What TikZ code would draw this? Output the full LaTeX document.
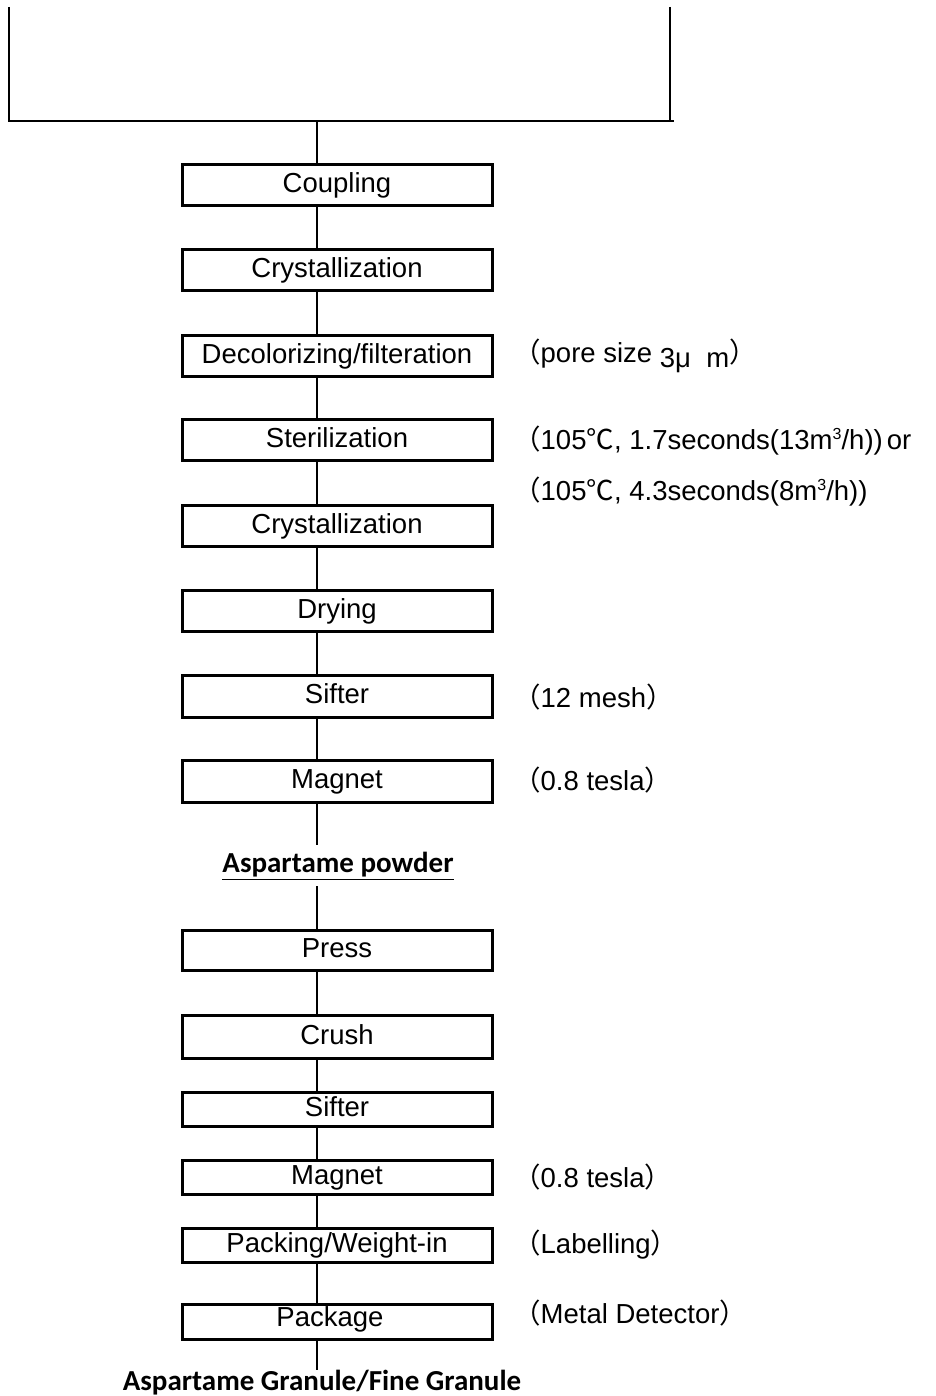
\documentclass[tikz,border=0pt]{standalone}
\usepackage{fontspec}
\setmainfont{Liberation Sans}
\newfontfamily\cjk{Noto Sans CJK JP}
\newfontfamily\calib{Carlito}
\newcommand{\lpar}{{\cjk （}}
\newcommand{\rpar}{{\cjk ）}}
\newcommand{\degc}{{\cjk ℃}}
\newcommand{\cubed}{\raisebox{10pt}{\fontsize{16}{18}\selectfont 3}}
\begin{document}
\begin{tikzpicture}[x=1pt,y=-1pt,
  box/.style={draw, line width=3pt, minimum width=310pt, inner sep=0pt,
    font=\fontsize{27.5}{32}\selectfont, text height=20pt, text depth=5pt},
  conn/.style={line width=1.6pt},
  frame/.style={line width=2pt},
  note/.style={anchor=west, inner sep=0pt, font=\fontsize{27.5}{32}\selectfont},
  lab/.style={inner sep=0pt, font=\fontsize{29}{34}\selectfont\calib\bfseries}
]
\useasboundingbox (0,0) rectangle (935,1396);

% top frame
\coordinate (tl) at (9,7);
\coordinate (bl) at (9,121);
\coordinate (br) at (674,121);
\coordinate (tr) at (670,7);
\coordinate (brr) at (670,121);
\coordinate (tc) at (317,121);
\draw[frame] (tl) -- (bl) -- (br);
\draw[frame] (tr) -- (brr);

% boxes
\node[box, minimum height=41pt] (b1) at (337,185.5) {Coupling};
\node[box, minimum height=41pt] (b2) at (337,270.5) {Crystallization};
\node[box, minimum height=41pt] (b3) at (337,355.5) {Decolorizing/filteration};
\node[box, minimum height=41pt] (b4) at (337,439.5) {Sterilization};
\node[box, minimum height=41pt] (b5) at (337,525.5) {Crystallization};
\node[box, minimum height=41pt] (b6) at (337,610.5) {Drying};
\node[box, minimum height=42pt] (b7) at (337,696) {Sifter};
\node[box, minimum height=42pt] (b8) at (337,781) {Magnet};
\node[lab] (pw) at (338,866) {\underline{Aspartame powder}};
\node[box, minimum height=40pt] (b9) at (337,950) {Press};
\node[box, minimum height=43pt] (b10) at (337,1036.5) {Crush};
\node[box, minimum height=34pt] (b11) at (337,1109) {Sifter};
\node[box, minimum height=34pt] (b12) at (337,1177) {Magnet};
\node[box, minimum height=34pt] (b13) at (337,1245) {Packing/Weight-in};
\node[box, minimum height=35pt] (b14) at (337,1321.5) {\hspace*{-14pt}\raisebox{3pt}{Package}};
\node[lab] (gr) at (322,1383) {Aspartame Granule/Fine Granule};

% connector end points
\coordinate (c1) at (317,845);
\coordinate (c2) at (317,886);
\coordinate (c3) at (317,1370);

% connectors
\draw[conn] (tc) -- ([xshift=-20pt]b1.north);
\foreach \a/\b in {b1/b2,b2/b3,b3/b4,b4/b5,b5/b6,b6/b7,b7/b8,b9/b10,b10/b11,b11/b12,b12/b13,b13/b14}{
  \draw[conn] ([xshift=-20pt]\a.south) -- ([xshift=-20pt]\b.north);
}
\draw[conn] ([xshift=-20pt]b8.south) -- (c1);
\draw[conn] (c2) -- ([xshift=-20pt]b9.north);
\draw[conn] ([xshift=-20pt]b14.south) -- (c3);

% notes
\node[note] (n3) at (513,356) {\lpar pore size \raisebox{-5pt}{3μ\ \ m}\rpar};
\node[note] (n4a) at (513,441) {\lpar 105\degc, 1.7seconds(13m\cubed/h))\hspace{4pt}or};
\node[note] (n4b) at (513,492) {\lpar 105\degc, 4.3seconds(8m\cubed/h))};
\node[note] (n7) at (513,697) {\lpar 12 mesh\rpar};
\node[note] (n8) at (513,780) {\lpar 0.8 tesla\rpar};
\node[note] (n12) at (513,1177) {\lpar 0.8 tesla\rpar};
\node[note] (n13) at (513,1245) {\lpar Labelling\rpar};
\node[note] (n14) at (513,1313) {\lpar Metal Detector\rpar};
\end{tikzpicture}
\end{document}
